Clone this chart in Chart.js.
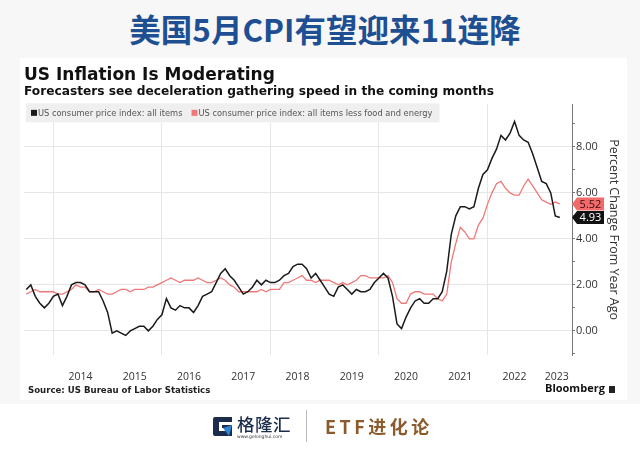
<!DOCTYPE html>
<html>
<head>
<meta charset="utf-8">
<script src="https://cdn.jsdelivr.net/npm/chart.js@4.4.0/dist/chart.umd.min.js"></script>
<style>
  html, body { margin: 0; padding: 0; }
  body { width: 640px; height: 454px; background: #f7f7f7; position: relative; overflow: hidden; font-family: "Open Sans", sans-serif; }
  #head { position: absolute; left: 10px; top: 13px; width: 630px; text-align: center; font: 700 31.5px/31px "Noto Sans CJK SC", sans-serif; color: #1e4f93; }
  #panel { position: absolute; left: 20px; top: 58px; width: 607px; height: 342px; background: #fff; }
  #chartBox { position: absolute; left: 0; top: 0; width: 605px; height: 340px; }
  #source { position: absolute; left: 8px; top: 327px; font: 700 8.6px "DejaVu Sans", sans-serif; color: #222; }
  #bbg { position: absolute; left: 525px; top: 322px; font: 700 11px "Open Sans", sans-serif; color: #111; }
  #bbg i { display: inline-block; width: 6px; height: 7px; background: #222; margin-left: 4px; vertical-align: -1px; }
  #foot { position: absolute; left: 0; top: 404px; width: 640px; height: 50px; background: #fff; }
  #logo { position: absolute; left: 213px; top: 13px; }
  #glh { position: absolute; left: 237px; top: 10px; font: 500 17.5px/20px "Noto Sans CJK SC", sans-serif; color: #1c2c4c; letter-spacing: 0.5px; }
  #url { position: absolute; left: 237px; top: 30px; font: 4.5px "DejaVu Sans", sans-serif; color: #333; }
  #sep { position: absolute; left: 306px; top: 6px; width: 1px; height: 32px; background: #bbb; }
  #etf { position: absolute; left: 325px; top: 11px; font: 700 18px/22px "Noto Sans CJK SC", sans-serif; color: #8c5a2b; letter-spacing: 3.5px; }
</style>
</head>
<body>
<div id="head">美国5月CPI有望迎来11连降</div>
<div id="panel">
  <div id="chartBox"><canvas id="cpiChart"></canvas></div>
  <div id="source">Source: US Bureau of Labor Statistics</div>
  <div id="bbg">Bloomberg<i></i></div>
</div>
<div id="foot">
  <svg id="logo" width="20" height="19" viewBox="0 0 20 19">
    <path d="M0 2 Q0 0 2 0 H19 V5 H6 V14 H12 V11 H9 V8 H19 V19 H2 Q0 19 0 17 Z" fill="#1c2c4c"/>
    <path d="M10 11 L19 8 L16 19 Z" fill="#2f86d6"/>
  </svg>
  <div id="glh">格隆汇</div>
  <div id="url">www.gelonghui.com</div>
  <div id="sep"></div>
  <div id="etf">ETF进化论</div>
</div>

<script>
// monthly year-over-year % change, Jun 2013 .. Apr 2023
var allItems = [
    1.8, 2.0, 1.5, 1.2, 1.0, 1.2, 1.5,
    1.6, 1.1, 1.5, 2.0, 2.1, 2.1, 2.0, 1.7, 1.7, 1.7, 1.3, 0.8,
    -0.1, 0.0, -0.1, -0.2, 0.0, 0.1, 0.2, 0.2, 0.0, 0.2, 0.5, 0.7,
    1.4, 1.0, 0.9, 1.1, 1.0, 1.0, 0.8, 1.1, 1.5, 1.6, 1.7, 2.1,
    2.5, 2.7, 2.4, 2.2, 1.9, 1.6, 1.7, 1.9, 2.2, 2.0, 2.2, 2.1,
    2.1, 2.2, 2.4, 2.5, 2.8, 2.9, 2.9, 2.7, 2.3, 2.5, 2.2, 1.9,
    1.6, 1.5, 1.9, 2.0, 1.8, 1.6, 1.8, 1.7, 1.7, 1.8, 2.1, 2.3,
    2.5, 2.3, 1.5, 0.3, 0.1, 0.6, 1.0, 1.3, 1.4, 1.2, 1.2, 1.4,
    1.4, 1.7, 2.6, 4.2, 5.0, 5.4, 5.4, 5.3, 5.4, 6.2, 6.8, 7.0,
    7.5, 7.9, 8.5, 8.3, 8.6, 9.1, 8.5, 8.3, 8.2, 7.7, 7.1, 6.5,
    6.4, 6.0, 5.0, 4.93
];
var coreItems = [
    1.6, 1.7, 1.8, 1.7, 1.7, 1.7, 1.7,
    1.6, 1.6, 1.7, 1.8, 2.0, 1.9, 1.9, 1.7, 1.7, 1.8, 1.7, 1.6,
    1.6, 1.7, 1.8, 1.8, 1.7, 1.8, 1.8, 1.8, 1.9, 1.9, 2.0, 2.1,
    2.2, 2.3, 2.2, 2.1, 2.2, 2.2, 2.2, 2.3, 2.2, 2.1, 2.1, 2.2,
    2.3, 2.2, 2.0, 1.9, 1.7, 1.7, 1.7, 1.7, 1.7, 1.8, 1.7, 1.8,
    1.8, 1.8, 2.1, 2.1, 2.2, 2.3, 2.4, 2.2, 2.2, 2.1, 2.2, 2.2,
    2.2, 2.1, 2.0, 2.1, 2.0, 2.1, 2.2, 2.4, 2.4, 2.3, 2.3, 2.3,
    2.3, 2.4, 2.1, 1.4, 1.2, 1.2, 1.6, 1.7, 1.7, 1.6, 1.6, 1.6,
    1.4, 1.3, 1.6, 3.0, 3.8, 4.5, 4.3, 4.0, 4.0, 4.6, 4.9, 5.5,
    6.0, 6.4, 6.5, 6.2, 6.0, 5.9, 5.9, 6.3, 6.6, 6.3, 6.0, 5.7,
    5.6, 5.5, 5.6, 5.52
];
var seriesNames = ["US consumer price index: all items", "US consumer price index: all items less food and energy"];
var yearLabels = ["2014", "2015", "2016", "2017", "2018", "2019", "2020", "2021", "2022", "2023"];
var yTicks = [-1, 0, 1, 2, 3, 4, 5, 6, 7, 8, 9];

// x is months after Jan 2014; each month is plotted at its month end
var firstX = -6;
var xMin = -6.5, xMax = 114.7;
var yMin = -1.05, yMax = 9.85;

function toPoints(arr) {
    return arr.map(function (v, i) { return { x: firstX + i, y: v }; });
}

// year label sits mid-year; the last one between its January and the axis end
function yearPos(i) {
    var jan = i * 12;
    if (i === yearLabels.length - 1) return (jan + xMax) / 2;
    return jan + 6;
}

var legendBand = {
    id: "legendBand",
    beforeDatasetsDraw: function (chart) {
        var ctx = chart.ctx;
        var x0 = chart.chartArea.left + 2, y0 = chart.chartArea.top - 1;
        ctx.save();
        ctx.font = "8.3px 'DejaVu Sans'";
        var x = x0 + 5, items = [];
        chart.data.datasets.forEach(function (ds) {
            var w = ctx.measureText(ds.label).width;
            items.push({ x: x, w: w, ds: ds });
            x += 7 + w + 9;
        });
        ctx.fillStyle = "#efefef";
        ctx.fillRect(x0, y0, x - x0 - 2, 19);
        items.forEach(function (it) {
            ctx.fillStyle = it.ds.borderColor;
            ctx.fillRect(it.x, y0 + 6.5, 6, 6);
            ctx.fillStyle = "#555";
            ctx.textBaseline = "middle";
            ctx.fillText(it.ds.label, it.x + 7, y0 + 10);
        });
        ctx.restore();
    }
};

var lastValueTags = {
    id: "lastValueTags",
    afterDatasetsDraw: function (chart) {
        var ctx = chart.ctx;
        var yScale = chart.scales.y;
        var x0 = chart.chartArea.right;
        ctx.save();
        ctx.font = "11px 'Open Sans'";
        ctx.textAlign = "center";
        ctx.textBaseline = "middle";
        for (var d = chart.data.datasets.length - 1; d >= 0; d--) {
            var ds = chart.data.datasets[d];
            var v = ds.data[ds.data.length - 1].y;
            var y = yScale.getPixelForValue(v);
            ctx.fillStyle = ds.tagColor;
            ctx.beginPath();
            ctx.moveTo(x0, y);
            ctx.lineTo(x0 + 5, y - 6.5);
            ctx.lineTo(x0 + 32, y - 6.5);
            ctx.lineTo(x0 + 32, y + 6.5);
            ctx.lineTo(x0 + 5, y + 6.5);
            ctx.closePath();
            ctx.fill();
            ctx.fillStyle = ds.tagText;
            ctx.fillText(v.toFixed(2), x0 + 18.5, y + 0.5);
        }
        ctx.restore();
    }
};

Chart.defaults.font.family = "'Open Sans', sans-serif";

new Chart(document.getElementById("cpiChart"), {
    type: "line",
    data: {
        datasets: [
            {
                label: seriesNames[0],
                data: toPoints(allItems),
                borderColor: "#1a1a1a",
                tagColor: "#111",
                tagText: "#fff",
                borderWidth: 1.5,
                pointRadius: 0,
                tension: 0,
            },
            {
                label: seriesNames[1],
                data: toPoints(coreItems),
                borderColor: "#f07878",
                tagColor: "#f26b6b",
                tagText: "#3a0c0c",
                borderWidth: 1.3,
                pointRadius: 0,
                tension: 0,
            },
        ],
    },
    options: {
        responsive: true,
        maintainAspectRatio: false,
        animation: false,
        layout: { padding: { left: 4, right: 3, top: 0, bottom: 0 } },
        plugins: {
            legend: { display: false },
            tooltip: { enabled: false },
            title: {
                display: true,
                text: "US Inflation Is Moderating",
                align: "start",
                color: "#111",
                font: { family: "'DejaVu Sans'", size: 17, weight: "bold", lineHeight: 1.1 },
                padding: { top: 8, bottom: 0 },
            },
            subtitle: {
                display: true,
                text: "Forecasters see deceleration gathering speed in the coming months",
                align: "start",
                color: "#111",
                font: { family: "'DejaVu Sans'", size: 12.2, weight: "bold", lineHeight: 1.2 },
                padding: { top: 0, bottom: 5 },
            },
        },
        scales: {
            x: {
                type: "linear",
                min: xMin,
                max: xMax,
                afterBuildTicks: function (scale) {
                    var t = [];
                    for (var i = 0; i < yearLabels.length; i++) {
                        t.push({ value: i * 12 });
                        t.push({ value: yearPos(i) });
                    }
                    scale.ticks = t;
                },
                afterFit: function (scale) { scale.height = 43; },
                grid: {
                    drawTicks: false,
                    color: function (c) {
                        return c.tick && c.tick.value % 24 === 0 && c.tick.value < 108 ? "#e6e6e6" : "rgba(0,0,0,0)";
                    },
                },
                border: { display: false },
                ticks: {
                    autoSkip: false,
                    maxRotation: 0,
                    padding: 16,
                    color: "#333",
                    font: { size: 10.5 },
                    callback: function (value) {
                        for (var i = 0; i < yearLabels.length; i++) {
                            if (Math.abs(yearPos(i) - value) < 0.01) return yearLabels[i];
                        }
                        return "";
                    },
                },
            },
            y: {
                position: "right",
                min: yMin,
                max: yMax,
                afterBuildTicks: function (scale) {
                    scale.ticks = yTicks.map(function (v) { return { value: v }; });
                },
                afterFit: function (scale) { scale.width = 50; },
                grid: {
                    tickLength: 3,
                    tickColor: "#777",
                    color: function (c) {
                        return c.tick && c.tick.value >= 0 && c.tick.value % 2 === 0 ? "#e6e6e6" : "rgba(0,0,0,0)";
                    },
                },
                border: { color: "#777", width: 1 },
                ticks: {
                    padding: 1,
                    color: "#333",
                    font: { size: 11 },
                    callback: function (value) {
                        return value >= 0 && value % 2 === 0 ? value.toFixed(2) : "";
                    },
                },
                title: {
                    display: true,
                    text: "Percent Change From Year Ago",
                    color: "#333",
                    font: { size: 12.5 },
                    padding: { top: 1, bottom: 0 },
                },
            },
        },
    },
    plugins: [legendBand, lastValueTags],
});
</script>
</body>
</html>
